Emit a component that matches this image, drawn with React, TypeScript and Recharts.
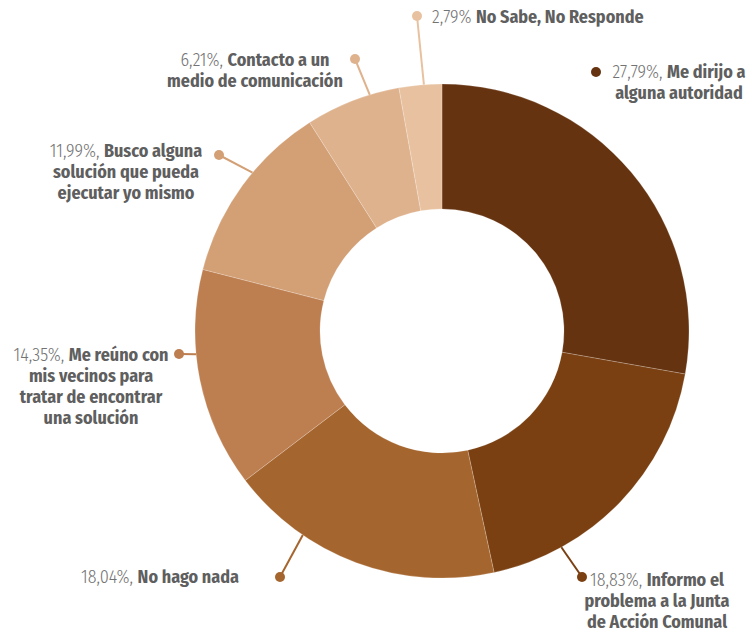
import React from 'react';
import { PieChart, Pie, Cell } from 'recharts';

// Datos de la encuesta
const PERCENTS = [27.79, 18.83, 18.04, 14.35, 11.99, 6.21, 2.79];
const PERCENT_LABELS = ['27,79%,', '18,83%,', '18,04%,', '14,35%,', '11,99%,', '6,21%,', '2,79%'];
const NAME_LINES = [
  ['Me dirijo a', 'alguna autoridad'],
  ['Informo el', 'problema a la Junta', 'de Acción Comunal'],
  ['No hago nada'],
  ['Me reúno con', 'mis vecinos para', 'tratar de encontrar', 'una solución'],
  ['Busco alguna', 'solución que pueda', 'ejecutar yo mismo'],
  ['Contacto a un', 'medio de comunicación'],
  ['No Sabe, No Responde'],
];

const COLORS = ['#663310', '#7a4012', '#a5652e', '#bd7e50', '#d3a076', '#dfb28e', '#e8c2a0'];

// Posición de las etiquetas respecto al centro del anillo
// lineAngle: ángulo en el borde donde nace el conector (null = sin línea)
// dot: punto final del conector; textX / textY: centro del bloque de texto
const LABEL_LAYOUT = [
  { lineAngle: null, dot: [154, -259], textX: 237, textY: -259, anchor: 'middle' },
  { lineAngle: -61.1, dot: [140, 246], textX: 215, textY: 249, anchor: 'middle' },
  { lineAngle: -124.3, dot: [-162, 246], textX: -203, textY: 246, anchor: 'end' },
  { lineAngle: 185.4, dot: [-263, 23], textX: -351, textY: 24, anchor: 'middle' },
  { lineAngle: 140.1, dot: [-223, -176], textX: -316, textY: -180, anchor: 'middle' },
  { lineAngle: 107, dot: [-87, -272], textX: -187, textY: -271, anchor: 'middle' },
  { lineAngle: 94.2, dot: [-25, -315], textX: -10, textY: -314, anchor: 'start' },
];

const chartData = PERCENTS.map((value, i) => ({
  name: NAME_LINES[i].join(' '),
  value,
}));

const W = 755;
const H = 634;
const CX = 442;
const CY = 331;
const OUTER = 247;
const INNER = 122;
const LINE_H = 21;
const RAD = Math.PI / 180;

const renderLabel = (props: any) => {
  const { index } = props;
  const lay = LABEL_LAYOUT[index];
  const color = COLORS[index];
  const dotX = CX + lay.dot[0];
  const dotY = CY + lay.dot[1];
  const lines = NAME_LINES[index];
  const tx = CX + lay.textX;
  const ty = CY + lay.textY;

  return (
    <g key={`label-${index}`}>
      {lay.lineAngle !== null && (
        <line
          x1={CX + OUTER * Math.cos(lay.lineAngle * RAD)}
          y1={CY - OUTER * Math.sin(lay.lineAngle * RAD)}
          x2={dotX}
          y2={dotY}
          stroke={color}
          strokeWidth={2}
        />
      )}
      <circle cx={dotX} cy={dotY} r={5} fill={color} />
      {lines.map((ln, j) => (
        <text
          key={j}
          x={tx}
          y={ty + j * LINE_H}
          textAnchor={lay.anchor}
          dominantBaseline="central"
          fontSize={18}
          fill="#5f5f5f"
        >
          {j === 0 && (
            <tspan fontWeight={300} fill="#737373">{PERCENT_LABELS[index] + ' '}</tspan>
          )}
          <tspan fontWeight={700}>{ln}</tspan>
        </text>
      ))}
    </g>
  );
};

export default function App() {
  return (
    <div style={{ width: W, height: H, background: '#fff' }}>
      <style>{`body { margin: 0; }`}</style>
      <PieChart
        width={W}
        height={H}
        margin={{ top: 0, right: 0, bottom: 0, left: 0 }}
        style={{ fontFamily: "'Fira Sans Condensed', 'Roboto Condensed', 'Liberation Sans Narrow', Roboto, sans-serif" }}
      >
        <Pie
          data={chartData}
          dataKey="value"
          nameKey="name"
          cx={CX}
          cy={CY}
          innerRadius={INNER}
          outerRadius={OUTER}
          startAngle={90}
          endAngle={-270}
          stroke="#ffffff"
          strokeOpacity={0.2}
          strokeWidth={1}
          label={renderLabel}
          labelLine={false}
          isAnimationActive={false}
        >
          {chartData.map((entry, i) => (
            <Cell key={`cell-${i}`} fill={COLORS[i]} />
          ))}
        </Pie>
      </PieChart>
    </div>
  );
}
